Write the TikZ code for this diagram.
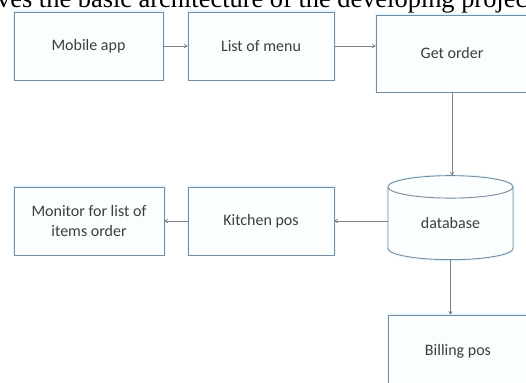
\documentclass[tikz,border=0pt]{standalone}
\usepackage{fontspec}
\setmainfont{Carlito}
\newfontfamily\captionfont{Liberation Serif}
\usepackage{tikz}
\usetikzlibrary{positioning,calc,arrows.meta,shapes.geometric}
\tikzset{>=Latex}
\definecolor{boxline}{RGB}{118,140,160}
\definecolor{boxfill}{RGB}{250,254,255}
\definecolor{arrowline}{RGB}{125,128,132}
\definecolor{labeltext}{RGB}{62,62,62}
\tikzset{
  block/.style={draw=boxline,fill=boxfill,line width=0.9pt,
    preaction={draw=cyan!10,line width=3pt},
    text=labeltext,font=\fontsize{16}{19.5}\selectfont,align=center,
    inner sep=0pt},
  link/.style={->,>={To[length=3.5pt,width=4pt]},draw=arrowline,line width=0.7pt}
}
\begin{document}
\begin{tikzpicture}[x=1pt,y=1pt]
  \useasboundingbox (0,0) rectangle (526,382);
  \clip (0,0) rectangle (526,382);
  \fill[white] (0,0) rectangle (526,382);
  % caption line cut by the top edge
  \node[anchor=base west,inner sep=0pt,font=\captionfont\fontsize{26.4}{30}\selectfont] (caption)
    at (-3,374) {ves the basic architecture of the developing projec};
  % top row
  \node[block,minimum width=149,minimum height=68] (mobile) at (88.5,336) {Mobile app};
  \node[block,minimum width=146,minimum height=68] (menu) at (261,336) {List of menu};
  \node[block,minimum width=152,minimum height=77] (order) at (452,328.5) {Get order};
  % middle row
  \node[block,cylinder,shape border rotate=90,aspect=0.38,
    minimum width=125,minimum height=84] (db) at (450.5,158.5) {database};
  \node[block,minimum width=146,minimum height=68] (kitchen) at (261,161) {Kitchen pos};
  \node[block,minimum width=150,minimum height=68] (monitor) at (89,161) {Monitor for list of\\items order};
  % bottom
  \node[block,minimum width=140,minimum height=72] (billing) at (458,31) {Billing pos};
  % arrows
  \draw[link] (mobile.east) -- (menu.west);
  \draw[link] (menu.east) -- (menu.east -| order.west);
  \draw[link] (order.south) -- (order.south |- db.north);
  \draw[link] (db.west |- kitchen.east) -- (kitchen.east);
  \draw[link] (kitchen.west) -- (monitor.east);
  \draw[link] (db.south) -- (db.south |- billing.north);
\end{tikzpicture}
\end{document}
